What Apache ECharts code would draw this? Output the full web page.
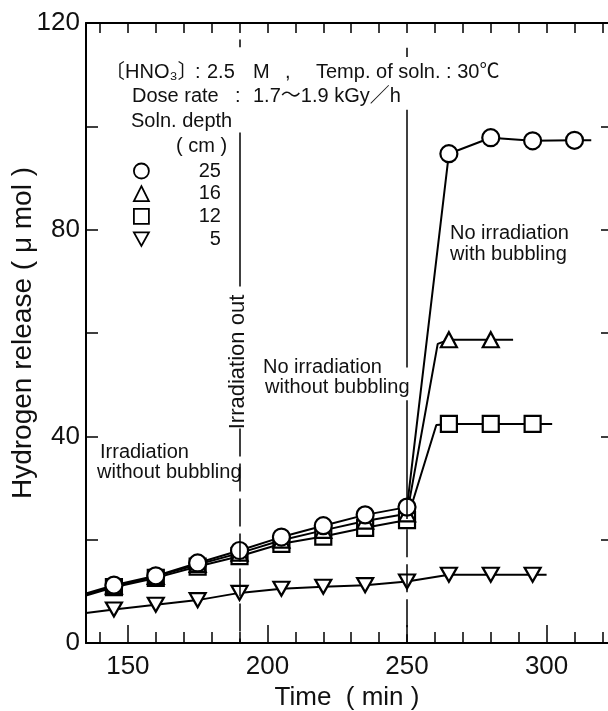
<!DOCTYPE html>
<html>
<head>
<meta charset="utf-8">
<script src="https://cdn.jsdelivr.net/npm/echarts@6/dist/echarts.min.js"></script>
<style>
html,body{margin:0;padding:0;background:#fff;}
#chart{width:608px;height:711px;}
</style>
</head>
<body>
<div id="chart"></div>
<script>
// ---- data ----
const times = [145, 160, 175, 190, 205, 220, 235, 250, 265, 280, 295, 310];
const depth25 = [11.2, 13.0, 15.5, 17.9, 20.5, 22.7, 24.8, 26.3, 94.7, 97.8, 97.2, 97.3];
const depth16 = [11.0, 12.9, 15.2, 17.4, 19.9, 21.8, 23.6, 25.0, 58.7, 58.7];
const depth12 = [10.8, 12.6, 14.8, 16.8, 19.2, 20.6, 22.3, 23.8, 42.4, 42.4, 42.4];
const depth5  = [6.5, 7.4, 8.3, 9.7, 10.5, 10.9, 11.2, 11.9, 13.2, 13.2, 13.2];
// unmarked line points: start at left axis, bends, end past last marker
const start25 = [135, 9.6], end25 = [316, 97.3];
const start16 = [135, 9.4], bend16 = [261, 57.9], end16 = [288, 58.7];
const start12 = [135, 9.2], bend12 = [260.5, 42.2], end12 = [302, 42.4];
const start5  = [135, 5.8], end5 = [300, 13.2];
// axis ticks / labels
const xMinorTicks = [140,150,160,170,180,190,200,210,220,230,240,250,260,270,280,290,300,310,320];
const xLabels = [150, 200, 250, 300];
const yLabels = [0, 40, 80, 120];
const legendNames = ['25', '16', '12', '5'];
// vertical guide segments [time, from, to]
const guidesSolid = [[190, 98.8, 69], [190, 116.8, 115.3], [250, 103.2, 53.3], [250, 47, 24], [250, 115.2, 113.4]];
const guidesDashed = [[190, 41.5, 0], [250, 22, 0]];

const FONT = "'Liberation Sans', Arial, 'Noto Sans CJK JP', sans-serif";
const INK = '#111';
const downTri = 'path://M0,0L10,0L5,9Z';

function build(vals, start, end, bend) {
  const pts = [{ value: start, symbol: 'none' }];
  vals.forEach((v, i) => {
    if (bend && times[i] === 265) pts.push({ value: bend, symbol: 'none' });
    pts.push([times[i], v]);
  });
  pts.push({ value: end, symbol: 'none' });
  return pts;
}

function lineSeries(name, vals, start, end, bend, symbol, size) {
  return {
    name: name, type: 'line', data: build(vals, start, end, bend),
    symbol: symbol, symbolSize: size, showSymbol: true, showAllSymbol: true,
    lineStyle: { color: '#000', width: 2 },
    itemStyle: { color: '#fff', borderColor: '#000', borderWidth: 2.2 },
    emphasis: { disabled: true }, z: 3
  };
}

const markData = [];
guidesSolid.forEach(g => markData.push([{ coord: [g[0], g[1]] }, { coord: [g[0], g[2]] }]));
guidesDashed.forEach(g => markData.push([{ coord: [g[0], g[1]], lineStyle: { type: [28, 7] } }, { coord: [g[0], g[2]] }]));

const txt = (text, x, y, size, extra) => Object.assign({
  type: 'text', x: x, y: y, silent: true,
  style: { text: text, fontSize: size || 20, fontFamily: FONT, fill: INK, align: 'left', verticalAlign: 'middle' }
}, extra || {});

const chart = echarts.init(document.getElementById('chart'));
chart.setOption({
  animation: false,
  backgroundColor: '#fff',
  grid: { left: 86, right: 0, top: 23, bottom: 68, containLabel: false, outerBoundsMode: 'none' },
  xAxis: [
    {
      type: 'value', min: 135, max: 322, position: 'bottom',
      axisLine: { lineStyle: { color: '#000', width: 2 } },
      axisTick: { inside: true, length: 11, customValues: xMinorTicks, lineStyle: { color: '#000', width: 1.5 } },
      axisLabel: { customValues: xLabels, fontSize: 26, fontFamily: FONT, color: INK, margin: 11 },
      splitLine: { show: false },
      name: 'Time  ( min )', nameLocation: 'middle', nameGap: 42, nameMoveOverlap: false,
      nameTextStyle: { fontSize: 26, fontFamily: FONT, color: INK }
    },
    {
      type: 'value', min: 135, max: 322, position: 'bottom',
      axisLine: { show: false },
      axisTick: { inside: true, length: 18, customValues: xLabels, lineStyle: { color: '#000', width: 1.5 } },
      axisLabel: { show: false }, splitLine: { show: false }
    },
    {
      type: 'value', min: 135, max: 322, position: 'top',
      axisLine: { lineStyle: { color: '#000', width: 2 } },
      axisTick: { inside: true, length: 10, customValues: xMinorTicks, lineStyle: { color: '#000', width: 1.5 } },
      axisLabel: { show: false }, splitLine: { show: false }
    }
  ],
  yAxis: [
    {
      type: 'value', min: 0, max: 120, interval: 20, position: 'left',
      axisLine: { lineStyle: { color: '#000', width: 2 } },
      axisTick: { inside: true, length: 12, lineStyle: { color: '#000', width: 1.5 } },
      axisLabel: { customValues: yLabels, fontSize: 26, fontFamily: FONT, color: INK, margin: 6 },
      splitLine: { show: false },
      name: 'Hydrogen release ( μ mol )', nameLocation: 'middle', nameGap: 49, nameMoveOverlap: false,
      nameTextStyle: { fontSize: 28, fontFamily: FONT, color: INK }
    },
    {
      type: 'value', min: 0, max: 120, interval: 20, position: 'right',
      axisLine: { show: false },
      axisTick: { inside: true, length: 7, lineStyle: { color: '#000', width: 1.5 } },
      axisLabel: { show: false }, splitLine: { show: false }
    }
  ],
  legend: {
    orient: 'vertical', left: 133, top: 161, padding: 0, itemWidth: 15, itemHeight: 15, itemGap: 2.7,
    selectedMode: false,
    data: [
      { name: legendNames[0], icon: 'circle' },
      { name: legendNames[1], icon: 'triangle' },
      { name: legendNames[2], icon: 'rect' },
      { name: legendNames[3], icon: downTri }
    ],
    itemStyle: { color: '#fff', borderColor: '#000', borderWidth: 1.8 },
    formatter: n => '{n|' + n + '}',
    textStyle: { fontSize: 20, fontFamily: FONT, color: INK, rich: { n: { width: 67, align: 'right', fontSize: 20, fontFamily: FONT, color: INK } } }
  },
  graphic: [
    txt('〔HNO₃〕', 105, 72),
    txt(':', 195, 72),
    txt('2.5', 207, 72),
    txt('M', 253, 72),
    txt(',', 285, 72),
    txt('Temp. of soln. : 30℃', 316, 72),
    txt('Dose rate', 132, 96),
    txt(':', 235, 96),
    txt('1.7〜1.9 kGy／h', 253, 96),
    txt('Soln. depth', 131, 121),
    txt('( cm )', 176, 146),
    txt('Irradiation', 100, 452),
    txt('without bubbling', 97, 472),
    txt('No irradiation', 263, 367),
    txt('without bubbling', 265, 387),
    txt('No irradiation', 450, 233),
    txt('with bubbling', 450, 254),
    {
      type: 'text', x: 238, y: 362, rotation: Math.PI / 2, silent: true,
      style: { text: 'Irradiation out', fontSize: 22, fontFamily: FONT, fill: INK, align: 'center', verticalAlign: 'middle' }
    }
  ],
  series: [
    {
      name: 'guides', type: 'line', data: [], z: 1,
      markLine: {
        silent: true, symbol: ['none', 'none'], label: { show: false },
        lineStyle: { color: '#000', width: 1.5, type: 'solid' },
        data: markData
      }
    },
    lineSeries(legendNames[3], depth5, start5, end5, null, downTri, [16, 14]),
    lineSeries(legendNames[2], depth12, start12, end12, bend12, 'rect', 16),
    lineSeries(legendNames[1], depth16, start16, end16, bend16, 'triangle', [16, 15]),
    lineSeries(legendNames[0], depth25, start25, end25, null, 'circle', 17)
  ]
});
</script>
</body>
</html>
